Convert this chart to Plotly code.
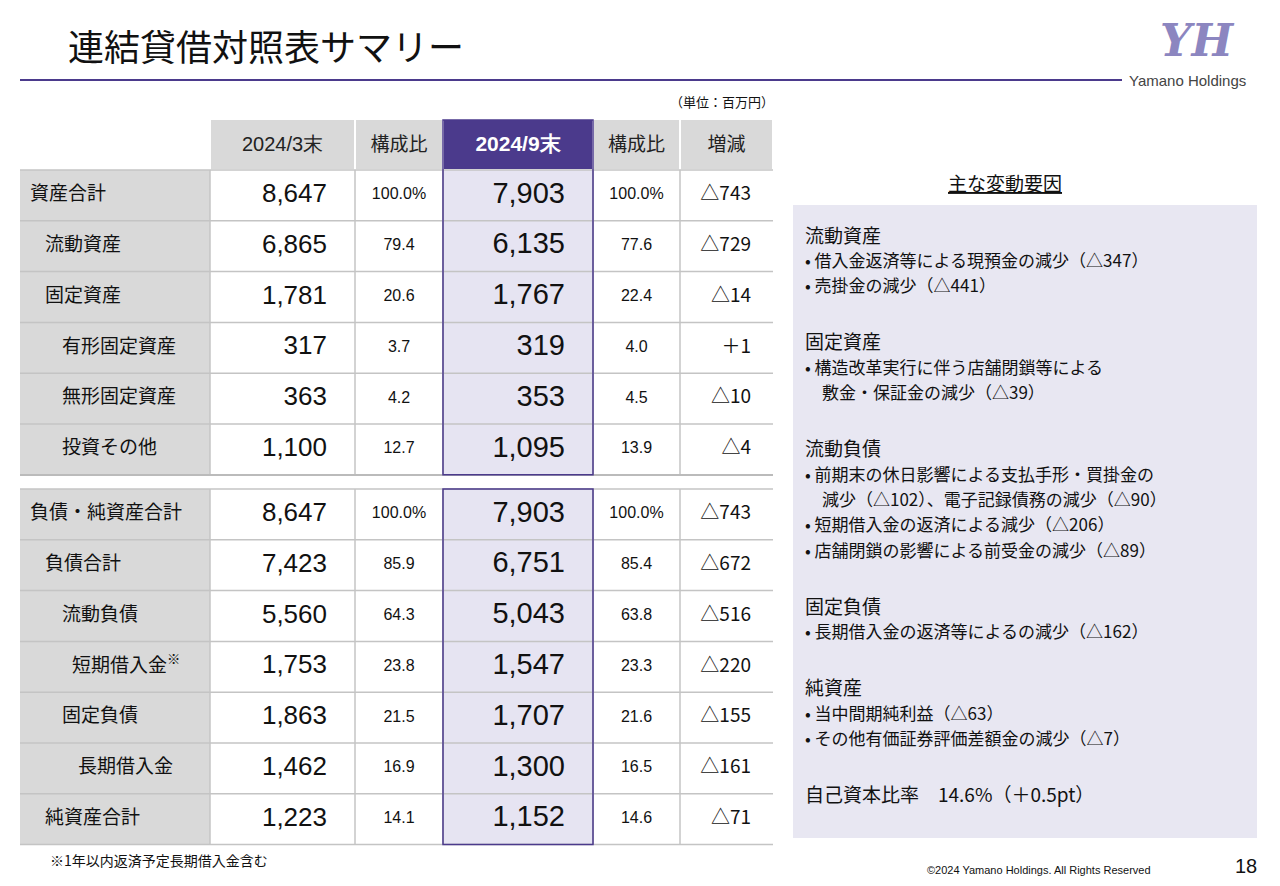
import plotly.graph_objects as go

FONT = "Noto Sans CJK JP"
NUM = "Liberation Sans"
PURPLE = "#4b3a8c"
LAV = "#e6e4f2"
GRAY = "#d9d9d9"
LINE = "#c4c4c4"

headers = ["2024/3末", "構成比", "2024/9末", "構成比", "増減"]

assets_labels = ["資産合計", "流動資産", "固定資産", "有形固定資産", "無形固定資産", "投資その他"]
assets_indent = [0, 1, 1, 2, 2, 2]
assets_mar = ["8,647", "6,865", "1,781", "317", "363", "1,100"]
assets_mar_ratio = ["100.0%", "79.4", "20.6", "3.7", "4.2", "12.7"]
assets_sep = ["7,903", "6,135", "1,767", "319", "353", "1,095"]
assets_sep_ratio = ["100.0%", "77.6", "22.4", "4.0", "4.5", "13.9"]
assets_diff = ["△743", "△729", "△14", "＋1", "△10", "△4"]

liab_labels = ["負債・純資産合計", "負債合計", "流動負債", "短期借入金<sup>※</sup>", "固定負債", "長期借入金", "純資産合計"]
liab_indent = [0, 1, 2, 3, 2, 4, 1]
liab_mar = ["8,647", "7,423", "5,560", "1,753", "1,863", "1,462", "1,223"]
liab_mar_ratio = ["100.0%", "85.9", "64.3", "23.8", "21.5", "16.9", "14.1"]
liab_sep = ["7,903", "6,751", "5,043", "1,547", "1,707", "1,300", "1,152"]
liab_sep_ratio = ["100.0%", "85.4", "63.8", "23.3", "21.6", "16.5", "14.6"]
liab_diff = ["△743", "△672", "△516", "△220", "△155", "△161", "△71"]

factor_lines = [
    ("流動資産", 19), ("• 借入金返済等による現預金の減少（△347）", 17), ("• 売掛金の減少（△441）", 17), ("", 12),
    ("固定資産", 19), ("• 構造改革実行に伴う店舗閉鎖等による", 17), ("　敷金・保証金の減少（△39）", 17), ("", 12),
    ("流動負債", 19), ("• 前期末の休日影響による支払手形・買掛金の", 17),
    ("　減少（△102）、電子記録債務の減少（△90）", 17), ("• 短期借入金の返済による減少（△206）", 17),
    ("• 店舗閉鎖の影響による前受金の減少（△89）", 17), ("", 12),
    ("固定負債", 19), ("• 長期借入金の返済等によるの減少（△162）", 17), ("", 12),
    ("純資産", 19), ("• 当中間期純利益（△63）", 17), ("• その他有価証券評価差額金の減少（△7）", 17), ("", 12),
    ("自己資本比率　14.6%（＋0.5pt）", 19),
]

W, H = 1280, 886
col_edges = [20, 210, 355, 443, 593, 680, 773]
ROW_H = 50.8
HEAD = (120, 170)
SEC_TOP = [170, 489]
INDENT_X = [30, 45, 62, 72, 78]

fig = go.Figure()
shapes = []


def rect(xa, xb, ya, yb, fill, line=None):
    shapes.append(dict(type="rect", xref="x", yref="y", x0=xa, x1=xb, y0=ya, y1=yb, fillcolor=fill,
                       line=dict(width=0) if line is None else line, layer="below"))


def hline(xa, xb, yy, color=LINE, width=1.5):
    shapes.append(dict(type="line", xref="x", yref="y", x0=xa, x1=xb, y0=yy, y1=yy,
                       line=dict(color=color, width=width), layer="below"))


# header
for i, h in enumerate(headers):
    a, b = col_edges[i + 1], col_edges[i + 2]
    rect(a + 1, b - 1, HEAD[0], HEAD[1] - 1, PURPLE if i == 2 else GRAY)
fig.add_trace(go.Scatter(
    x=[(col_edges[i + 1] + col_edges[i + 2]) / 2 for i in range(5)], y=[146] * 5, mode="text",
    text=[f"<b>{h}</b>" if i == 2 else h for i, h in enumerate(headers)],
    textfont=dict(family=[NUM, FONT, NUM, FONT, FONT], size=[20, 19, 21, 19, 19],
                  color=["#222", "#222", "white", "#222", "#222"]),
    hoverinfo="skip"))


def section(top, labels, levels, mar, mr, sep, sr, diff):
    n = len(labels)
    bot = top + n * ROW_H
    rect(col_edges[0], col_edges[1], top, bot, GRAY)
    rect(col_edges[3], col_edges[4], top, bot, LAV)
    for r in range(n + 1):
        hline(col_edges[0], col_edges[-1], top + r * ROW_H)
    for e in col_edges[1:-1]:
        shapes.append(dict(type="line", xref="x", yref="y", x0=e, x1=e, y0=top, y1=bot,
                           line=dict(color=LINE, width=1.5), layer="below"))
    shapes.append(dict(type="rect", xref="x", yref="y", x0=col_edges[3], x1=col_edges[4],
                       y0=top - (50 if top == SEC_TOP[0] else 0), y1=bot, line=dict(color=PURPLE, width=1.5)))
    ys = [top + (r + 0.5) * ROW_H for r in range(n)]
    cols = [
        (labels, [INDENT_X[l] for l in levels], "middle right", FONT, 19),
        (mar, [col_edges[2] - 28] * n, "middle left", NUM, 26),
        (mr, [(col_edges[2] + col_edges[3]) / 2] * n, "middle center", NUM, 16),
        (sep, [col_edges[4] - 28] * n, "middle left", NUM, 29),
        (sr, [(col_edges[4] + col_edges[5]) / 2] * n, "middle center", NUM, 16),
        (diff, [col_edges[6] - 22] * n, "middle left", FONT, 19),
    ]
    for vals, xs, pos, fam, size in cols:
        fig.add_trace(go.Scatter(x=xs, y=ys, mode="text", text=vals, textposition=pos,
                                 textfont=dict(family=fam, size=size, color="#111"), hoverinfo="skip"))


section(SEC_TOP[0], assets_labels, assets_indent, assets_mar, assets_mar_ratio, assets_sep,
        assets_sep_ratio, assets_diff)
section(SEC_TOP[1], liab_labels, liab_indent, liab_mar, liab_mar_ratio, liab_sep, liab_sep_ratio, liab_diff)
hline(20, 773, 475, color="#bbbbbb", width=2)

shapes += [
    dict(type="line", xref="x", yref="y", x0=20, x1=1122, y0=80, y1=80, line=dict(color=PURPLE, width=2)),
    dict(type="rect", xref="x", yref="y", x0=793, x1=1257, y0=205, y1=838, fillcolor="#e8e7f2",
         line=dict(width=0), layer="below"),
]

ann = [
    dict(text="連結貸借対照表サマリー", x=66, y=45, font=dict(size=36, family=FONT, color="#111")),
    dict(text="Yamano Holdings", x=1127, y=80, font=dict(size=15, family=NUM, color="#444")),
    dict(text="<i><b>YH</b></i>", x=1158, y=40, font=dict(size=44, family="DejaVu Serif", color="#8c86c0")),
    dict(text="（単位：百万円）", x=668, y=101, font=dict(size=13, family=FONT, color="#111")),
    dict(text="<u>主な変動要因</u>", x=946, y=182, font=dict(size=19, family=FONT, color="#111")),
    dict(text="※1年以内返済予定長期借入金含む", x=48, y=860, font=dict(size=14, family=FONT, color="#111")),
    dict(text="©2024 Yamano Holdings. All Rights Reserved", x=925, y=870,
         font=dict(size=11, family=NUM, color="#111")),
    dict(text="18", x=1233, y=866, font=dict(size=20, family=NUM, color="#111")),
]
y = 234
for t, s in factor_lines:
    if t:
        ann.append(dict(text=t, x=803, y=y, font=dict(size=s, family=FONT, color="#111")))
    y += 25.3 if s != 12 else 31
for a in ann:
    a.update(xref="x", yref="y", xanchor="left", yanchor="middle", showarrow=False)

fig.update_xaxes(range=[0, W], visible=False, fixedrange=True)
fig.update_yaxes(range=[H, 0], visible=False, fixedrange=True)
fig.update_layout(width=W, height=H, margin=dict(l=0, r=0, t=0, b=0), paper_bgcolor="white",
                  plot_bgcolor="white", shapes=shapes, annotations=ann, showlegend=False)
fig.write_html("out.html", config={"displayModeBar": False},
               post_script="document.body.style.margin='0';")
